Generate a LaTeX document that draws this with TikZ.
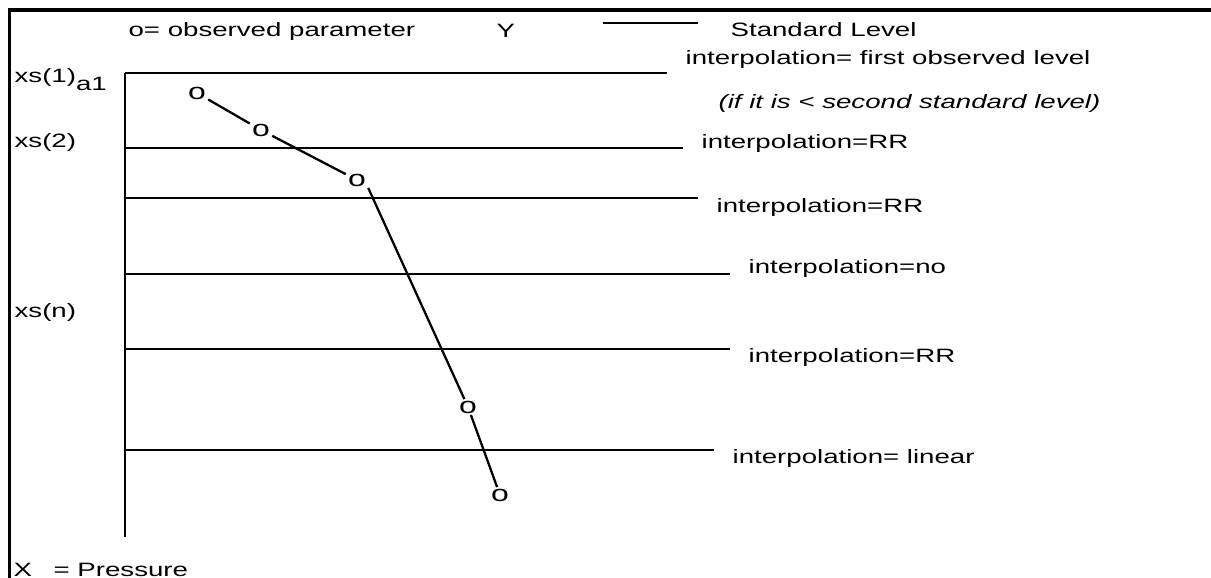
\documentclass[tikz,border=0pt]{standalone}
\usepackage{fontspec}
\setmainfont{Liberation Sans}

\begin{document}
\begin{tikzpicture}[x=0.02cm, y=-0.02cm, line width=1.3pt,
	txt/.style = {font=\fontsize{11}{12}\selectfont, xscale=1.43, inner sep=0pt, anchor=base west},
	obs/.style = {font=\fontsize{13}{14}\selectfont, xscale=1.4, inner sep=0.3pt},
	frame/.style = {line width=2.2pt}]
	
	% Page size and frame
	\useasboundingbox (0,0) rectangle (1211,578);
	\draw[frame] (9.5,578) -- (9.5,9.8) -- (1211,9.8);
	
	% Legend
	\node[txt] (legObs) at (127,36) {o= observed parameter};
	\node[txt] (legY) at (495,37) {Y};
	\coordinate (legA) at (603,23);
	\coordinate (legB) at (698,23);
	\draw (legA) -- (legB);
	\node[txt] (legStd) at (729,36.5) {Standard Level};
	
	% Pressure axis
	\coordinate (axTop) at (125,73);
	\coordinate (axBot) at (125,537);
	\draw (axTop) -- (axBot);
	
	% Standard levels
	\draw (125,73) -- (667,73);
	\draw (125,148) -- (683,148);
	\draw (125,198) -- (698,198);
	\draw (125,274) -- (730,274);
	\draw (125,349) -- (730,349);
	\draw (125,450) -- (714,450);
	
	% Level labels
	\node[txt] (xsOne) at (13,82) {xs(1)\raisebox{-0.18cm}{a1}};
	\node[txt] (xsTwo) at (13,147) {xs(2)};
	\node[txt] (xsN) at (13,317) {xs(n)};
	\node[txt] (axX) at (12,576) {X};
	\node[txt] (axP) at (52,576) {= Pressure};
	
	% Interpolation labels
	\node[txt] (intA) at (684,64) {interpolation= first observed level};
	\node[txt] (intNote) at (717,108) {\itshape (if it is < second standard level)};
	\node[txt] (intB) at (700,148) {interpolation=RR};
	\node[txt] (intC) at (715,212) {interpolation=RR};
	\node[txt] (intD) at (747,273) {interpolation=no};
	\node[txt] (intE) at (747,362) {interpolation=RR};
	\node[txt] (intF) at (731,463) {interpolation= linear};
	
	% Observed profile
	\node[obs] (o1) at (197,93) {o};
	\node[obs] (o2) at (261,130) {o};
	\node[obs] (o3) at (357,180) {o};
	\node[obs] (o4) at (468,407) {o};
	\node[obs] (o5) at (500,495) {o};
	\draw (o1) -- (o2);
	\draw (o2) -- (o3);
	\draw (o3.south east) -- (o4);
	\draw (o4) -- (o5);
	
\end{tikzpicture}
\end{document}
